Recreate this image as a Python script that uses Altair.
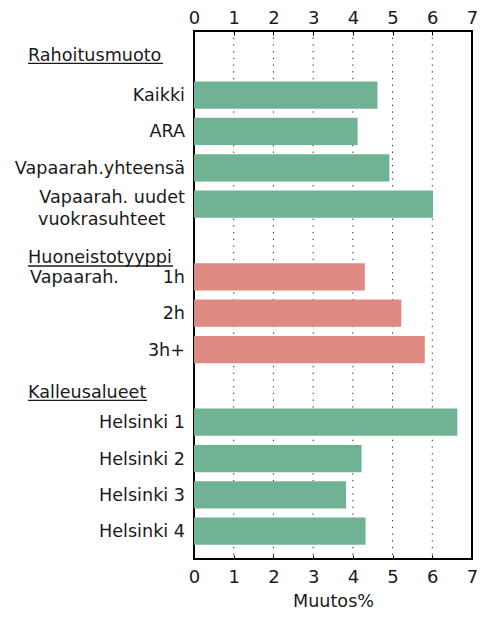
import altair as alt
import pandas as pd

# ---- data ----
rows = ["Rahoitusmuoto", "Kaikki", "ARA", "Vapaarah.yhteensä",
        "Vapaarah. uudet vuokrasuhteet", "Huoneistotyyppi", "1h", "2h", "3h+",
        "Kalleusalueet", "Helsinki 1", "Helsinki 2", "Helsinki 3", "Helsinki 4"]
bar_rows = ["Kaikki", "ARA", "Vapaarah.yhteensä", "Vapaarah. uudet vuokrasuhteet",
            "1h", "2h", "3h+", "Helsinki 1", "Helsinki 2", "Helsinki 3", "Helsinki 4"]
bar_values = [4.62, 4.12, 4.92, 6.02, 4.30, 5.22, 5.81, 6.63, 4.22, 3.83, 4.32]
bar_groups = ["Rahoitusmuoto"] * 4 + ["Huoneistotyyppi"] * 3 + ["Kalleusalueet"] * 4
headers = ["Rahoitusmuoto", "Huoneistotyyppi", "Kalleusalueet"]
header_dy = [-3, 18, 7]
header_width = [135, 145, 119]
grid_values = [1, 2, 3, 4, 5, 6]
tick_values = [i / 2 for i in range(0, 15)]

FONT = "DejaVu Sans"
FS = 17.6
TXT = "#1a1a1a"
GREEN = "#70b294"
RED = "#de8a82"

bars = pd.DataFrame({"row": bar_rows, "value": bar_values, "group": bar_groups})
single = bars[bars["row"] != "Vapaarah. uudet vuokrasuhteet"]
grid = pd.DataFrame({"v": grid_values})

xscale = alt.Scale(domain=[0, 7], nice=False, zero=True)
yscale = alt.Scale(domain=rows, paddingInner=0.25, paddingOuter=0.39)
Y = alt.Y("row:N", scale=yscale, axis=None)

common_axis = dict(values=tick_values, tickSize=4, offset=-4, tickColor="black",
                   tickWidth=1, domain=False, grid=False, format="d",
                   labelExpr="datum.value % 1 ? '' : datum.label",
                   labelFont=FONT, labelFontSize=18, labelColor=TXT,
                   labelFlush=False, labelOverlap=False)

grid_layer = alt.Chart(grid).mark_rule(
    color="black", strokeDash=[1.3, 5.4], strokeWidth=1, opacity=0.85
).encode(
    x=alt.X("v:Q", scale=xscale,
            axis=alt.Axis(orient="top", title=None, labelPadding=4, **common_axis))
)

bar_layer = alt.Chart(bars).mark_bar().encode(
    x=alt.X("value:Q", scale=xscale,
            axis=alt.Axis(orient="bottom", title="Muutos%", labelPadding=9,
                          titleFont=FONT, titleFontSize=FS, titleFontWeight="normal",
                          titleColor=TXT, titlePadding=6, **common_axis)),
    y=Y,
    color=alt.Color("group:N", scale=alt.Scale(domain=headers, range=[GREEN, RED, GREEN]),
                    legend=None),
)

label_layer = alt.Chart(single).mark_text(
    align="right", baseline="middle", font=FONT, fontSize=FS, color=TXT, dy=1
).encode(x=alt.value(-9), y=Y, text="row:N")

multi1 = alt.Chart(bars[bars["row"] == "Vapaarah. uudet vuokrasuhteet"]).mark_text(
    align="right", baseline="middle", font=FONT, fontSize=FS, color=TXT, dy=-6,
    text="Vapaarah. uudet"
).encode(x=alt.value(-9), y=Y)

multi2 = alt.Chart(bars[bars["row"] == "Vapaarah. uudet vuokrasuhteet"]).mark_text(
    align="left", baseline="middle", font=FONT, fontSize=FS, color=TXT, dy=16,
    text="vuokrasuhteet"
).encode(x=alt.value(-156), y=Y)

vap_layer = alt.Chart(bars[bars["row"] == "1h"]).mark_text(
    align="left", baseline="middle", font=FONT, fontSize=FS, color=TXT, dy=1,
    text="Vapaarah."
).encode(x=alt.value(-164), y=Y)

layers = [grid_layer, bar_layer, label_layer, multi1, multi2, vap_layer]

for h, dy, w in zip(headers, header_dy, header_width):
    hdf = pd.DataFrame({"row": [h]})
    layers.append(
        alt.Chart(hdf).mark_text(
            align="left", baseline="middle", font=FONT, fontSize=FS, color=TXT, dy=dy
        ).encode(x=alt.value(-166), y=Y, text="row:N")
    )
    layers.append(
        alt.Chart(hdf).mark_rule(color=TXT, strokeWidth=1.3, yOffset=dy + 7.5).encode(
            x=alt.value(-166), x2=alt.value(-166 + w), y=Y
        )
    )

chart = alt.layer(*layers).resolve_axis(x="independent").properties(
    width=278, height=528,
    autosize=alt.AutoSizeParams(type="none"),
    padding={"left": 186, "top": 23, "right": 6, "bottom": 53},
).configure_view(stroke="black", strokeWidth=2)

chart.save("out.html", embed_options={"renderer": "svg", "actions": False})
